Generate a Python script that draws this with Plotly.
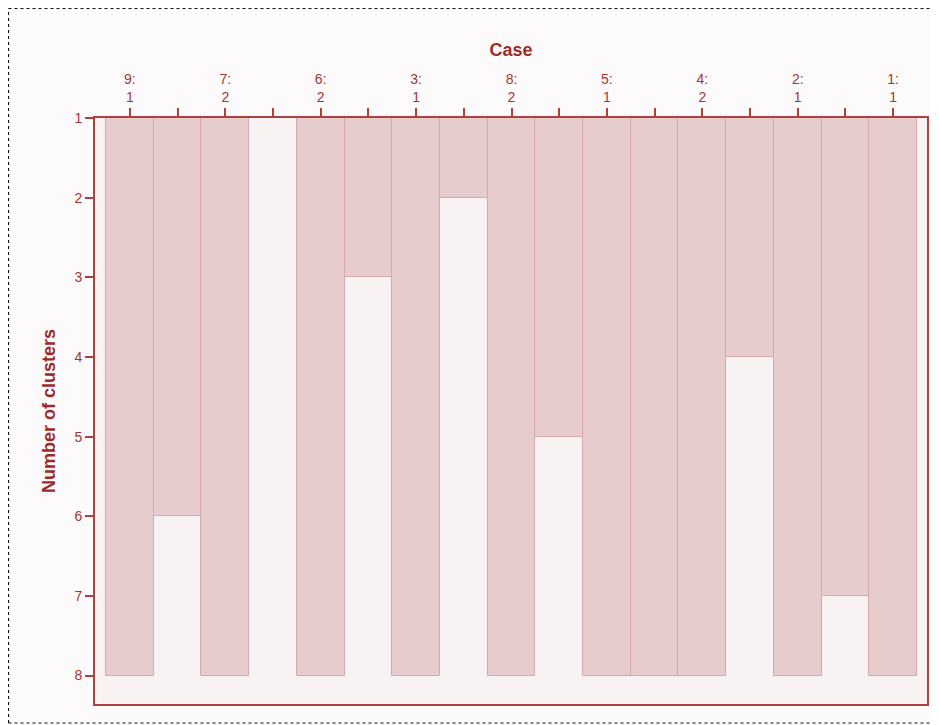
import plotly.graph_objects as go

# Case labels (top axis), in dendrogram order
case_labels = ["9:<br>1", "7:<br>2", "6:<br>2", "3:<br>1", "8:<br>2",
               "5:<br>1", "4:<br>2", "2:<br>1", "1:<br>1"]
# Each case is present at every number of clusters (1..8)
case_depth = [8, 8, 8, 8, 8, 8, 8, 8, 8]
# Number of clusters down to which adjacent cases stay joined
join_levels = [6, 1, 3, 2, 5, 8, 4, 7]
y_ticks = [1, 2, 3, 4, 5, 6, 7, 8]

# Interleave cases and joins into icicle columns
positions, depths, ticktext = [], [], []
for i, lab in enumerate(case_labels):
    positions.append(len(positions) + 1)
    depths.append(case_depth[i])
    ticktext.append(lab)
    if i < len(join_levels):
        positions.append(len(positions) + 1)
        depths.append(join_levels[i])
        ticktext.append("")

base_level = 1
heights = [d - base_level for d in depths]

axis_col = "#b23e3e"
text_col = "#a53535"
title_col = "#9c2a2a"
font_fam = "Liberation Sans, Arial, sans-serif"

W, H = 939, 725
fig = go.Figure()
fig.add_trace(go.Bar(
    x=positions, y=heights, base=base_level, width=1,
    marker=dict(color="#e6cccc", line=dict(color="#d6aaaa", width=1)),
    hoverinfo="skip", showlegend=False,
))

# page body adds an 8px offset; margins compensate
ml, mt, mr, mb = 87, 110, 20, 29
pw, ph = W - ml - mr, H - mt - mb

bx0, bx1 = (0.5 - ml) / pw, (990 - ml) / pw
by0, by1 = (H - mb - 715) / ph, (H - mb - 0.5) / ph
dot = dict(color="#111111", width=1.2, dash="dot")
border = [
    dict(type="line", xref="paper", yref="paper", x0=bx0, x1=bx1, y0=by1, y1=by1, line=dot, layer="above"),
    dict(type="line", xref="paper", yref="paper", x0=bx0, x1=bx1, y0=by0, y1=by0, line=dot, layer="above"),
    dict(type="line", xref="paper", yref="paper", x0=bx0, x1=bx0, y0=by0, y1=by1, line=dot, layer="above"),
]

fig.update_layout(
    width=W, height=H,
    margin=dict(l=ml, r=mr, t=mt, b=mb),
    paper_bgcolor="#fcfafa",
    plot_bgcolor="#f8f2f2",
    font=dict(family=font_fam, color=text_col, size=14),
    bargap=0,
    xaxis=dict(
        side="top", range=[0.269, 17.71],
        tickmode="array", tickvals=positions, ticktext=ticktext,
        ticks="outside", ticklen=8, tickwidth=2, tickcolor=axis_col,
        showline=True, linecolor=axis_col, linewidth=2, mirror=True,
        showgrid=False, zeroline=False,
        tickfont=dict(size=14, color=text_col),
        title=dict(text="<b>Case</b>", standoff=10,
                   font=dict(size=18, color=title_col, family=font_fam)),
    ),
    yaxis=dict(
        range=[8.357, 1],
        tickmode="array", tickvals=y_ticks,
        ticks="outside", ticklen=8, tickwidth=2, tickcolor=axis_col,
        showline=True, linecolor=axis_col, linewidth=2, mirror=True,
        showgrid=False, zeroline=False,
        tickfont=dict(size=14, color=text_col),
        title=dict(text="<b>Number of clusters</b>", standoff=14,
                   font=dict(size=18, color=title_col, family=font_fam)),
    ),
    shapes=border,
)

fig.write_html("out.html")
